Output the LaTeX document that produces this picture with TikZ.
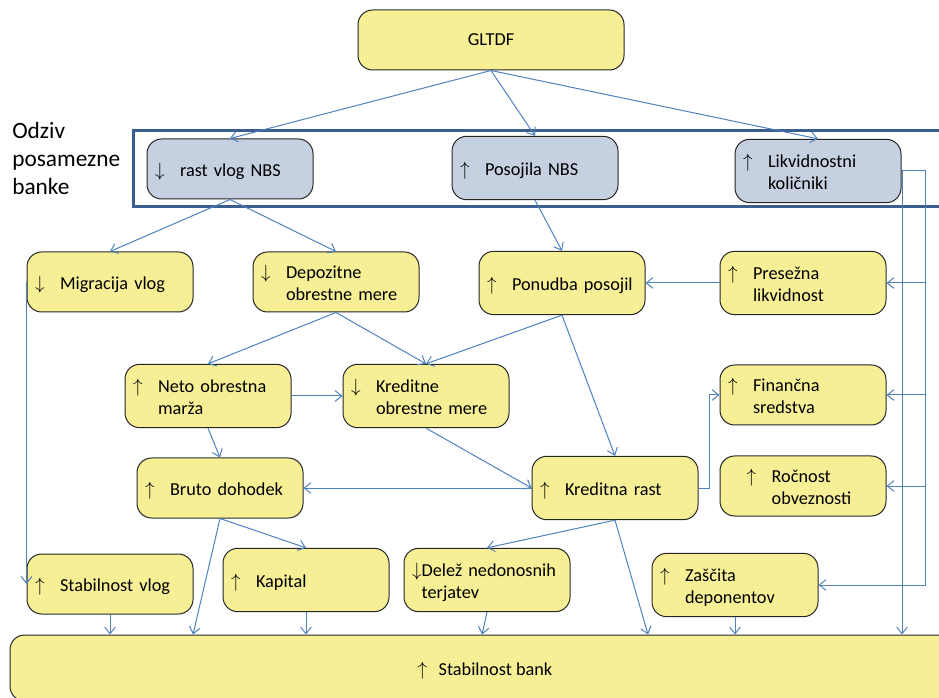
\documentclass[tikz,border=0pt]{standalone}
\usepackage{fontspec}
\setmainfont{Carlito}
\usetikzlibrary{arrows.meta}

\definecolor{boxyellow}{HTML}{F7EF96}
\definecolor{boxblue}{HTML}{C5D0E1}
\definecolor{linkblue}{HTML}{4F81BD}
\definecolor{bandblue}{HTML}{3A5F8E}

\newcommand{\incr}{$\uparrow$}
\newcommand{\decr}{$\downarrow$}
\newcommand{\lowered}[1]{\raisebox{-2pt}[\height][\depth]{#1}}
\newcommand{\boxtext}[2]{\lowered{\begin{tabular}{@{}p{18.75pt}@{}l@{}}#1 & \begin{tabular}[t]{@{}l@{}}#2\end{tabular}\end{tabular}}}

\begin{document}
\begin{tikzpicture}[x=0.75pt, y=-0.75pt,
    font=\fontsize{13.7}{16.5}\selectfont,
    % Node styles
    boxbase/.style={draw=black!85, line width=0.75pt, rounded corners=11pt, minimum height=45pt, inner ysep=0pt},
    yellowbox/.style={boxbase, fill=boxyellow, minimum width=124.5pt, text width=112.5pt, inner xsep=6pt, align=left},
    bluebox/.style={yellowbox, fill=boxblue},
    widebox/.style={boxbase, fill=boxyellow, align=center},
    tall/.style={minimum height=47.5pt},
    conn/.style={-{Straight Barb[length=5pt,width=8pt]}, draw=linkblue, line width=0.75pt},
    bandframe/.style={draw=bandblue, line width=2.25pt}
]
\useasboundingbox (0,0) rectangle (939,698);

% Band of the bank response
\draw[bandframe] (133,131) rectangle (975,207);
\node[font=\fontsize{17.5}{21}\selectfont, align=left, anchor=west, inner sep=0pt] (odziv) at (12,158) {Odziv\\posamezne\\banke};

% Top node
\node[widebox, minimum width=199.5pt] (gl) at (491,40) {GLTDF};

% Bank response
\node[bluebox] (rast) at (230,169) {\boxtext{\decr}{rast vlog NBS}};
\node[bluebox, tall] (pos) at (535,168) {\boxtext{\incr}{Posojila NBS}};
\node[bluebox, tall] (lik) at (818,171) {\boxtext{\incr}{Likvidnostni\\količniki}};

% Second row
\node[yellowbox] (mig) at (110,282) {\boxtext{\decr}{Migracija vlog}};
\node[yellowbox] (dep) at (336,282) {\boxtext{\decr}{Depozitne\\obrestne mere}};
\node[yellowbox, tall] (pon) at (562,283) {\boxtext{\incr}{Ponudba posojil}};
\node[yellowbox, tall] (pres) at (803,283) {\boxtext{\incr}{Presežna\\likvidnost}};

% Third row
\node[yellowbox, tall] (neto) at (208,396) {\boxtext{\incr}{Neto obrestna\\marža}};
\node[yellowbox, tall] (kre) at (426,396) {\boxtext{\decr}{Kreditne\\obrestne mere}};
\node[yellowbox] (fin) at (803,395) {\boxtext{\incr}{Finančna\\sredstva}};

% Fourth row
\node[yellowbox] (bruto) at (220,488) {\boxtext{\incr}{Bruto dohodek}};
\node[yellowbox, tall] (kr) at (615,488) {\boxtext{\incr}{Kreditna rast}};
\node[yellowbox, inner xsep=20pt, text width=84.5pt] (roc) at (803,486) {\boxtext{\incr}{Ročnost\\obveznosti}};

% Fifth row
\node[yellowbox] (vlog) at (110,584) {\boxtext{\incr}{Stabilnost vlog}};
\node[yellowbox, tall] (kap) at (306,580) {\boxtext{\incr}{Kapital}};
\node[yellowbox, tall] (del) at (487,580) {\lowered{\begin{tabular}{@{}l@{}l@{}}\decr & \begin{tabular}[t]{@{}l@{}}Delež nedonosnih\\terjatev\end{tabular}\end{tabular}}};
\node[yellowbox, tall] (zas) at (735,585) {\boxtext{\incr}{Zaščita\\deponentov}};

% Bottom node
\node[widebox, minimum width=712.5pt, minimum height=49.5pt] (bank) at (485,668) {\lowered{\makebox[15.75pt][l]{\incr}Stabilnost bank}};

% Arrows from GLTDF
\foreach \n in {rast,pos,lik} \draw[conn] (gl.south) -- (\n.north);

% Arrows between the rows
\draw[conn] (rast.south) -- (mig.north);
\draw[conn] (rast.south) -- (dep.north);
\draw[conn] (pos.south) -- (pon.north);
\draw[conn] (pres.west) -- (pon.east);
\draw[conn] (dep.south) -- (neto.north);
\draw[conn] (dep.south) -- (kre.north);
\draw[conn] (pon.south) -- (kre.north);
\draw[conn] (pon.south) -- (kr.north);
\draw[conn] (neto.east) -- (kre.west);
\draw[conn] (neto.south) -- (bruto.north);
\draw[conn] (kre.south) -- (kr.west);
\draw[conn] (kr.west) -- (bruto.east);
\draw[conn] (kr.east) -- ++(11,0) |- (fin.west);
\draw[conn] (kr.south) -- (del.north);
\draw[conn] (kr.south) -- (648,0 |- bank.north);
\draw[conn] (bruto.south) -- (kap.north);
\draw[conn] (bruto.south) -- (193,0 |- bank.north);
\draw[conn] (mig.west) -- (mig.west |- vlog.west);

% Into the bottom node
\foreach \n in {vlog,kap,zas} \draw[conn] (\n.south) -- (\n.south |- bank.north);
\draw[conn] (del.south) -- (482,0 |- bank.north);

% Liquidity lines on the right
\coordinate (bus) at (lik.east -| 925,0);
\draw[conn] (lik.east) -- (bus) |- (zas.east);
\foreach \n in {pres,fin,roc} \draw[conn] (bus) |- (\n.east);
\draw[conn] (lik.east) -| (902,0 |- bank.north);

\end{tikzpicture}
\end{document}
